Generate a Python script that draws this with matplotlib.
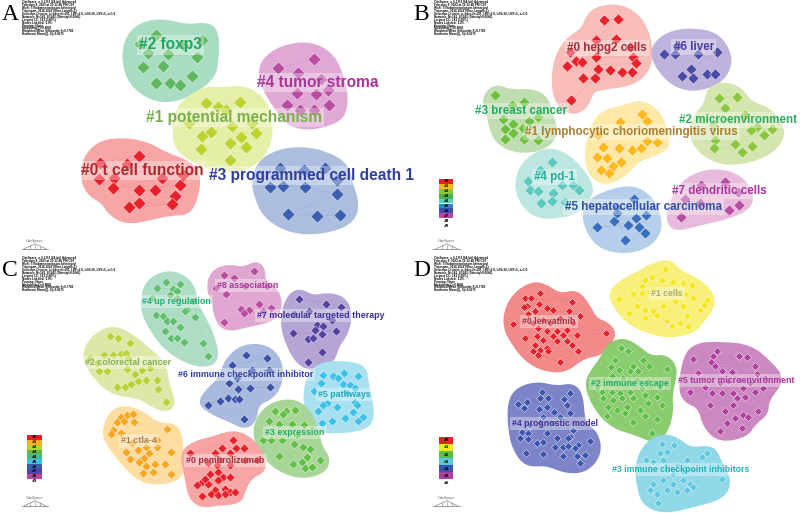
import matplotlib
matplotlib.use("Agg")
import matplotlib.pyplot as plt
from matplotlib.path import Path
from matplotlib.patches import PathPatch

# node and outline positions, per panel in a 1200x768 grid
A0_NODES = [(300,488),(417,467),(381,492),(296,538),(342,535),(487,534),(338,563),(540,556),(418,571),(466,571),(525,587),(417,610),(516,612),(388,622),(550,525)]
A0_BLOB = [(246,530),(255,475),(295,430),(360,418),(440,430),(500,465),(560,485),(597,520),(590,590),(565,640),(510,640),(450,655),(380,668),(330,640),(310,605),(265,580)]
A1_NODES = [(617,310),(720,307),(653,320),(677,330),(568,368),(695,378),(755,368),(634,395),(768,398),(606,408),(724,410),(690,430),(737,440),(603,446),(690,479)]
A1_BLOB = [(522,400),(530,330),(570,290),(620,265),(680,268),(720,262),(770,280),(805,325),(815,400),(795,460),(750,500),(690,515),(620,500),(560,470),(530,440)]
A2_NODES = [(468,105),(605,120),(420,132),(550,135),(445,160),(505,163),(590,170),(428,200),(490,198),(467,248),(510,250),(540,254),(577,227)]
A2_BLOB = [(370,170),(385,105),(430,70),(490,62),(560,80),(625,72),(652,100),(650,180),(640,230),(590,270),(530,300),(470,300),(420,275),(385,235)]
A3_NODES = [(841,504),(911,509),(975,503),(1010,540),(810,560),(850,557),(914,561),(1010,583),(865,641),(951,649),(1020,645)]
A3_BLOB = [(760,550),(775,490),(830,455),(905,445),(980,460),(1040,495),(1055,560),(1072,610),(1060,660),(1000,690),(910,700),(840,680),(790,640),(770,590)]
A4_NODES = [(942,177),(833,205),(895,220),(963,237),(892,278),(948,281),(985,270),(862,314),(988,316),(899,331),(943,329)]
A4_BLOB = [(780,215),(795,175),(850,140),(930,130),(990,160),(1020,210),(1040,290),(1030,350),(980,375),(920,385),(860,370),(820,310),(790,260)]

B0_NODES = [(612,60),(653,57),(588,120),(648,118),(510,155),(690,140),(528,182),(545,185),(588,172),(700,170),(707,190),(502,199),(595,207),(630,211),(666,215),(695,215),(550,233),(586,233),(513,301)]
B0_BLOB = [(460,270),(465,180),(500,120),(550,90),(565,45),(600,22),(660,18),(710,45),(740,90),(753,150),(745,210),(700,250),(620,262),(575,270),(560,320),(520,340),(480,320)]
B1_NODES = [(727,342),(660,365),(740,362),(595,405),(740,422),(770,425),(610,441),(656,443),(695,450),(723,445),(592,471),(621,475),(662,486),(640,497),(603,510),(627,520)]
B1_BLOB = [(556,470),(575,380),(610,335),(680,320),(720,305),(770,330),(800,390),(805,440),(770,460),(710,480),(680,520),(620,552),(575,530)]
B2_NODES = [(958,294),(1011,290),(975,325),(1035,345),(1070,380),(1115,386),(1052,390),(1092,405),(945,420),(1006,433),(1057,438),(943,443),(1025,455),(940,375)]
B2_BLOB = [(870,400),(885,350),(920,310),(925,270),(965,250),(1020,265),(1050,310),(1110,330),(1150,385),(1140,430),(1090,470),(1010,490),(950,485),(895,450)]
B3_NODES = [(284,285),(372,307),(335,315),(310,358),(387,362),(415,350),(340,372),(314,388),(368,385),(340,400),(372,418),(415,420),(315,417)]
B3_BLOB = [(250,295),(285,257),(330,275),(400,272),(440,295),(455,350),(470,400),(440,440),(380,455),(320,445),(280,410),(265,340)]
B4_NODES = [(455,486),(420,510),(384,544),(390,570),(415,574),(458,578),(485,555),(518,555),(538,570),(422,610),(456,604),(495,605)]
B4_BLOB = [(347,550),(370,490),(420,455),(470,450),(530,490),(575,555),(570,590),(540,630),(480,650),(410,650),(365,610)]
B5_NODES = [(703,597),(650,625),(737,645),(708,653),(643,663),(684,676),(592,680),(716,682),(735,698),(674,720),(650,640)]
B5_BLOB = [(548,650),(570,600),(640,570),(700,562),(750,590),(780,650),(775,710),(720,750),(640,755),(580,725)]
B6_NODES = [(830,138),(793,162),(826,163),(895,163),(950,155),(873,207),(845,228),(878,234),(921,221),(944,221)]
B6_BLOB = [(755,165),(770,125),(820,95),(890,90),(950,105),(985,150),(990,200),(960,245),(890,270),(830,258),(785,220)]
B7_NODES = [(902,556),(974,547),(1015,575),(855,596),(1017,614),(986,630),(843,652),(900,610)]
B7_BLOB = [(805,640),(830,570),(880,525),(950,510),(1020,530),(1055,580),(1050,620),(990,650),(900,670),(830,688),(808,670)]

C0_NODES = [(699,550),(571,588),(666,573),(709,573),(733,573),(644,590),(690,590),(735,610),(770,610),(660,610),(625,620),(650,625),(690,625),(630,650),(655,645),(670,660),(690,660),(605,675),(590,685),(625,680),(655,670),(615,665),(675,695),(645,700),(690,705),(705,705),(605,718),(632,712),(655,715),(675,710)]
C0_BLOB = [(545,590),(580,560),(640,545),(700,525),(750,545),(785,590),(795,640),(750,660),(730,700),(720,735),(650,740),(605,748),(570,720),(560,660)]
C1_NODES = [(363,480),(382,475),(400,472),(352,495),(371,492),(402,497),(362,530),(338,520),(332,532),(501,518),(470,550),(395,560),(470,570),(438,572),(377,587),(415,580),(447,590),(513,586),(390,607),(432,603),(416,617),(465,622),(495,622),(437,628),(428,648),(458,645),(514,651)]
C1_BLOB = [(310,530),(330,470),(375,450),(430,470),(470,505),(530,505),(545,560),(540,620),(545,660),(480,680),(420,670),(370,620),(330,570)]
C2_NODES = [(331,238),(355,245),(389,261),(270,305),(312,295),(338,295),(362,292),(378,290),(385,305),(290,320),(296,345),(320,345),(380,338),(405,352),(425,340),(450,335),(470,370),(352,390),(374,392),(392,383),(415,375),(437,370),(473,398),(497,435)]
C2_BLOB = [(247,300),(280,240),(335,212),(390,235),(440,275),(495,325),(500,380),(523,440),(500,462),(455,445),(420,420),(340,410),(290,370)]
C3_NODES = [(824,464),(858,463),(886,461),(850,473),(807,494),(838,503),(875,502),(912,505),(788,550),(812,549),(846,549),(890,535),(882,563),(909,570),(930,578),(836,597),(920,600),(878,623),(905,615),(915,635),(935,630),(960,610)]
C3_BLOB = [(762,540),(775,480),(820,440),(880,432),(925,460),(950,520),(960,570),(985,605),(975,640),(920,660),(860,650),(800,610)]
C4_NODES = [(497,78),(540,84),(470,95),(520,98),(530,105),(455,125),(510,118),(530,125),(560,160),(585,182),(467,176),(490,178),(500,195),(520,195),(540,212),(495,225),(512,245),(532,245),(552,257),(608,260),(623,300),(578,135),(555,165)]
C4_BLOB = [(428,130),(440,80),(490,50),(540,55),(580,90),(585,140),(620,200),(645,260),(650,310),(620,327),(570,320),(500,280),(455,220),(430,170)]
C5_NODES = [(970,356),(1000,360),(1033,351),(1075,358),(1013,365),(963,379),(1030,382),(1050,385),(1065,395),(943,402),(1040,410),(980,440),(970,445),(1010,450),(955,462),(1065,435),(1070,445),(1058,465),(1090,480),(965,500),(995,492),(1035,484),(1075,492)]
C5_BLOB = [(915,410),(930,350),(970,320),(1050,320),(1095,335),(1100,385),(1115,440),(1115,500),(1070,520),(1000,525),(950,520),(920,460)]
C6_NODES = [(739,296),(800,304),(697,326),(757,340),(806,342),(712,365),(686,381),(751,393),(810,391),(713,397),(625,444),(660,432),(684,424),(705,426),(717,428),(732,487)]
C6_BLOB = [(597,440),(625,400),(660,370),(680,310),(730,268),(800,270),(840,310),(845,370),(820,420),(770,440),(765,490),(735,513),(690,490),(640,470)]
C7_NODES = [(897,128),(978,142),(1023,152),(882,172),(928,165),(996,190),(950,205),(968,210),(945,222),(1008,225),(878,230),(966,233),(925,248),(938,245),(966,287),(923,318)]
C7_BLOB = [(845,200),(860,130),(895,100),(940,125),(980,115),(1030,125),(1052,170),(1040,230),(1010,270),(1000,310),(950,340),(900,325),(865,270)]
C8_NODES = [(762,44),(671,58),(701,66),(648,97),(735,90),(800,90),(677,115),(776,143),(812,154),(722,158),(746,160),(733,171),(788,165),(672,198)]
C8_BLOB = [(625,100),(635,50),(680,30),(730,40),(770,20),(790,40),(790,80),(830,100),(843,150),(820,190),(750,205),(680,222),(650,190),(640,130)]

D0_NODES = [(421,110),(517,136),(375,126),(393,126),(380,150),(372,152),(418,143),(440,155),(458,160),(405,165),(508,165),(541,179),(383,172),(340,204),(430,190),(450,200),(480,185),(415,215),(400,200),(440,225),(470,225),(500,220),(520,200),(617,231),(376,245),(410,240),(430,250),(460,240),(490,235),(530,235),(405,265),(440,275),(470,255),(500,255),(515,265),(400,285),(420,280),(445,285),(533,283),(480,316),(415,295)]
D0_BLOB = [(310,205),(330,130),(385,85),(430,85),(480,120),(530,105),(565,150),(585,190),(625,205),(645,235),(610,290),(550,300),(500,340),(450,343),(390,320),(345,270)]
D1_NODES = [(794,40),(735,72),(757,64),(787,72),(818,78),(848,80),(877,88),(725,90),(700,115),(725,110),(760,100),(830,110),(855,115),(880,125),(656,128),(710,150),(735,160),(760,165),(790,150),(825,135),(850,150),(920,130),(912,145),(900,160),(688,170),(735,185),(770,175),(800,195),(815,208),(840,200),(865,210),(860,180)]
D1_BLOB = [(628,125),(650,85),(710,55),(760,25),(810,15),(840,50),(890,70),(935,110),(940,150),(905,195),(880,225),(810,240),(740,225),(680,195)]
D2_NODES = [(663,275),(684,285),(644,312),(802,339),(632,333),(658,340),(700,328),(728,312),(746,330),(690,345),(715,345),(635,360),(670,365),(710,370),(745,375),(590,390),(605,405),(635,405),(660,410),(690,405),(725,395),(780,390),(610,425),(640,430),(665,425),(700,425),(735,415),(770,420),(625,450),(650,460),(680,450),(745,440),(785,445),(720,460),(675,470),(622,478),(735,478),(770,487),(700,497),(757,530)]
D2_BLOB = [(557,385),(580,340),(605,310),(625,265),(670,250),(710,270),(750,305),(800,300),(830,340),(810,410),(815,470),(795,530),(765,555),(710,530),(640,510),(590,460)]
D3_NODES = [(785,563),(822,565),(800,585),(780,590),(737,610),(760,615),(790,610),(920,590),(905,600),(830,625),(860,610),(800,640),(820,650),(850,645),(880,640),(965,665),(760,680),(790,670),(820,680),(850,670),(870,680),(750,700),(770,712),(800,700),(830,705),(860,700),(880,690),(775,737)]
D3_BLOB = [(710,620),(740,560),(790,535),(835,550),(870,580),(940,570),(960,620),(990,670),(970,720),(880,745),(790,765),(730,740),(715,680)]
D4_NODES = [(427,407),(510,409),(355,441),(381,437),(372,455),(420,425),(445,425),(492,427),(500,445),(418,457),(442,452),(462,465),(510,470),(430,480),(480,480),(420,495),(460,500),(390,505),(520,520),(365,525),(385,530),(440,530),(510,540),(360,545),(385,548),(410,560),(430,555),(470,545),(505,545),(570,552),(535,565),(430,592),(379,590),(465,570),(490,570),(505,568),(525,575),(490,597),(530,597),(555,595),(540,620)]
D4_BLOB = [(328,440),(350,400),(410,380),(470,395),(520,385),(545,420),(548,500),(590,530),(600,590),(560,640),(500,645),(440,620),(380,625),(345,580),(330,520)]
D5_NODES = [(950,285),(880,308),(940,300),(1018,300),(1040,303),(933,318),(1065,328),(945,330),(965,345),(895,350),(995,348),(1070,352),(1095,365),(915,390),(960,380),(985,375),(1020,370),(1050,380),(870,406),(937,408),(965,410),(1000,408),(1030,395),(1065,405),(1090,395),(1010,425),(1035,420),(931,445),(1000,445),(975,462),(1075,462),(1005,485),(1030,475),(1045,480),(980,500),(1025,514),(961,522)]
D5_BLOB = [(840,400),(855,300),(890,265),(960,262),(1050,270),(1110,320),(1150,370),(1100,430),(1100,470),(1060,500),(1040,535),(960,552),(915,510),(900,450),(860,435)]

# label, label x, label y, node colour, blob colour, text colour, nodes, blob
PANEL_A = [
    ("#2 foxp3", 512, 135, "#5FB860", "#A9DDC3", "#1FA864", A2_NODES, A2_BLOB),
    ("#1 potential mechanism", 701, 352, "#BCD32F", "#E6EFA8", "#7CB04C", A1_NODES, A1_BLOB),
    ("#0 t cell function", 427, 512, "#E8202A", "#F8A5A5", "#B0282F", A0_NODES, A0_BLOB),
    ("#3 programmed cell death 1", 935, 527, "#3A5FAF", "#ACBDE0", "#2F3F9E", A3_NODES, A3_BLOB),
    ("#4 tumor stroma", 952, 247, "#B84CA0", "#E0A9D5", "#A8359A", A4_NODES, A4_BLOB),
]
PANEL_B = [
    ("#0 hepg2 cells", 621, 145, "#E8202A", "#F8BDB8", "#A5303A", B0_NODES, B0_BLOB),
    ("#6 liver", 881, 142, "#4B4BA8", "#BFB3DD", "#4A3FA8", B6_NODES, B6_BLOB),
    ("#2 microenvironment", 1015, 360, "#8CC63F", "#D5E5AF", "#2FAE5F", B2_NODES, B2_BLOB),
    ("#3 breast cancer", 362, 332, "#6CBF3F", "#BFDDB0", "#20AD60", B3_NODES, B3_BLOB),
    ("#1 lymphocytic choriomeningitis virus", 695, 395, "#FFB81C", "#FFE9A8", "#A88030", B1_NODES, B1_BLOB),
    ("#4 pd-1", 463, 530, "#5CC8BE", "#BCE6E0", "#20B0A0", B4_NODES, B4_BLOB),
    ("#5 hepatocellular carcinoma", 730, 620, "#3A6FBF", "#B5CFEB", "#2F4FA8", B5_NODES, B5_BLOB),
    ("#7 dendritic cells", 959, 573, "#B84CA0", "#E8BADB", "#A8359A", B7_NODES, B7_BLOB),
]
PANEL_C = [
    ("#4 up regulation", 530, 137, "#5FBF6F", "#AEDDC5", "#20AD75", C4_NODES, C4_BLOB),
    ("#8 association", 742, 88, "#B84CA0", "#E0A8D0", "#A8359A", C8_NODES, C8_BLOB),
    ("#7 molecular targeted therapy", 963, 178, "#5540A0", "#B5A5D5", "#3F3098", C7_NODES, C7_BLOB),
    ("#2 colorectal cancer", 383, 317, "#B8D235", "#DDE8A8", "#88AE50", C2_NODES, C2_BLOB),
    ("#6 immune checkpoint inhibitor", 737, 353, "#3850A8", "#A9B9DF", "#2F3FA0", C6_NODES, C6_BLOB),
    ("#5 pathways", 1034, 413, "#3CC0E8", "#A8E0F0", "#20A8B8", C5_NODES, C5_BLOB),
    ("#3 expression", 885, 527, "#62BF45", "#A8D598", "#20AD60", C3_NODES, C3_BLOB),
    ("#1 ctla-4", 417, 552, "#F8A520", "#FFDCA0", "#A88050", C1_NODES, C1_BLOB),
    ("#0 pembrolizumab", 676, 612, "#E8202A", "#F7A5A5", "#A5303A", C0_NODES, C0_BLOB),
]
PANEL_D = [
    ("#0 lenvatinib", 447, 196, "#E8202A", "#F28A8A", "#A03844", D0_NODES, D0_BLOB),
    ("#1 cells", 802, 112, "#F5E820", "#F8F07A", "#A8A878", D1_NODES, D1_BLOB),
    ("#2 immune escape", 691, 381, "#5CBF45", "#8CCC70", "#20AD60", D2_NODES, D2_BLOB),
    ("#5 tumor microenvironment", 1010, 372, "#B040A0", "#CC88C0", "#A8359A", D5_NODES, D5_BLOB),
    ("#4 prognostic model", 466, 500, "#3A55B0", "#7E84C8", "#3F3098", D4_NODES, D4_BLOB),
    ("#3 immune checkpoint inhibitors", 843, 638, "#5CC8E0", "#90D8E8", "#20B0C0", D3_NODES, D3_BLOB),
]

LEGEND_B = ["#E8202A", "#FFB81C", "#8CC63F", "#4CAF50", "#5ECFC0", "#3A7FBF", "#3F4FAF", "#B848A0"]
LEGEND_C = ["#E8202A", "#FFB020", "#B8D235", "#5CB848", "#4CB888", "#3CC0E8", "#3A5FAF", "#4F45A8", "#B848A0"]
LEGEND_D = ["#E8202A", "#F8E820", "#5CBF45", "#5CC8E0", "#3A55B0", "#B040A0"]

INFO_LINES = [
    "CiteSpace, v. 6.2.R3 (64-bit) Advanced",
    "February 6, 2023 at 12:12:45 PM CST",
    "WoS: T:/Submission/paper-lit/merged",
    "Timespan: 2018-2022 (Slice Length=1)",
    "Selection Criteria: g-index (k=25), LRF=2.0, L/N=10, LBY=5, e=1.0",
    "Network: N=141, E=242 (Density=0.0245)",
    "Largest CC: 141 (100%)",
    "Nodes Labeled: 1.0%",
    "Pruning: None",
    "Modularity Q=0.8801",
    "Weighted Mean Silhouette S=0.7783",
    "Harmonic Mean(Q, S)=0.8275",
]


def blob_path(points):
    # smooth closed outline, midpoints of the edges with the vertices as control points
    n = len(points)
    mid = [((points[i][0] + points[(i + 1) % n][0]) / 2, (points[i][1] + points[(i + 1) % n][1]) / 2) for i in range(n)]
    verts = [mid[-1]]
    codes = [Path.MOVETO]
    for i in range(n):
        verts += [points[i], mid[i]]
        codes += [Path.CURVE3, Path.CURVE3]
    return Path(verts, codes)


def draw_legend(ax, colours, extra, x, top, width, step):
    for i, c in enumerate(colours):
        ax.bar(x, step, width=width, bottom=top + i * step, color=c, align="edge", linewidth=0)
        ax.text(x + width / 2, top + (i + 0.5) * step, f"#{i}", fontsize=2.5, fontweight="bold",
                ha="center", va="center", color="black")
    for j, name in enumerate(extra):
        ax.text(x + width / 2, top + (len(colours) + j + 0.5) * step, name, fontsize=2.5, fontweight="bold",
                ha="center", va="center", color="black")


def draw_logo(ax, x):
    ax.text(x + 40, 724, "CiteSpace", fontsize=3.2, family="Liberation Serif", color="#555555", ha="center", va="center")
    ax.plot([x, x + 80], [748, 748], color="#888888", lw=0.6)
    ax.plot([x + 8, x + 40, x + 72], [746, 732, 746], color="#999999", lw=0.6)
    ax.vlines([x + 25, x + 40, x + 55], 734, 747, color="#999999", lw=0.5)


def draw_panel(ax, letter, letter_x, info_x, clusters, node_size, font_size):
    ax.set_xlim(0, 1200)
    ax.set_ylim(768, 0)
    ax.axis("off")
    ax.patch.set_alpha(0)
    for label, lx, ly, node_c, blob_c, text_c, nodes, blob in clusters:
        ax.add_patch(PathPatch(blob_path(blob), facecolor=blob_c, edgecolor=blob_c, lw=3, zorder=1))
    for label, lx, ly, node_c, blob_c, text_c, nodes, blob in clusters:
        xs = [p[0] for p in nodes]
        ys = [p[1] for p in nodes]
        ax.plot(xs, ys, color=node_c, lw=0.3, alpha=0.2, zorder=2)
        ax.scatter(xs, ys, s=node_size, marker="D", color=node_c, edgecolor="white", linewidth=0.3, zorder=3)
    for label, lx, ly, node_c, blob_c, text_c, nodes, blob in clusters:
        ax.text(lx, ly, label, fontsize=font_size, fontweight="bold", family="Liberation Sans", color=text_c,
                ha="center", va="center", zorder=5, clip_on=False,
                bbox=dict(facecolor="white", alpha=0.35, edgecolor="none", pad=1.5))
    ax.text(letter_x, 44, letter, fontsize=17, family="Liberation Serif", color="black", ha="left", va="center")
    for i, line in enumerate(INFO_LINES):
        ax.text(info_x, 7 + i * 8.7, line, fontsize=2.2, fontweight="bold", family="Liberation Sans",
                color="black", ha="left", va="center")


fig = plt.figure(figsize=(8, 5.13), dpi=100)
ax_a = fig.add_axes([0, 257 / 513, 0.5, 256 / 513])
ax_b = fig.add_axes([0.5, 257 / 513, 0.5, 256 / 513])
ax_c = fig.add_axes([0, 0, 0.5, 257 / 513])
ax_d = fig.add_axes([0.5, 0, 0.5, 257 / 513])

draw_panel(ax_a, "A", 5, 67, PANEL_A, 45, 11.2)
draw_panel(ax_b, "B", 40, 102, PANEL_B, 33, 8.4)
draw_panel(ax_c, "C", 5, 67, PANEL_C, 22, 6.4)
draw_panel(ax_d, "D", 40, 102, PANEL_D, 16, 6.3)

draw_legend(ax_b, LEGEND_B, ["#8", "#9"], 116, 536, 44, 14.9)
draw_legend(ax_c, LEGEND_C, ["#9"], 81, 535, 46, 14.5)
draw_legend(ax_d, LEGEND_D, ["#6"], 116, 540, 44, 21.3)

draw_logo(ax_a, 65)
draw_logo(ax_b, 100)
draw_logo(ax_c, 65)
draw_logo(ax_d, 100)

fig.savefig("out.png", dpi=100, facecolor="white")
